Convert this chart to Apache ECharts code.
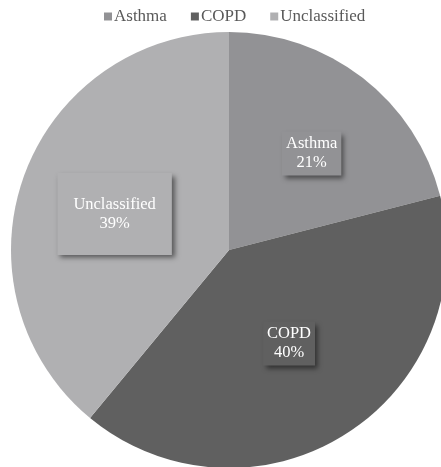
<!DOCTYPE html>
<html>
<head>
<meta charset="utf-8">
<script src="https://cdn.jsdelivr.net/npm/echarts@6/dist/echarts.min.js"></script>
<style>
  html, body { margin: 0; padding: 0; background: #ffffff; }
  #chart { width: 441px; height: 467px; }
</style>
</head>
<body>
<div id="chart"></div>
<script>
// Share of cases by diagnosis group
const categories = ['Asthma', 'COPD', 'Unclassified'];
const shares = [21, 40, 39];

// Slice colours and per-label presentation
const sliceColors = ['#929295', '#606060', '#b0b0b2'];
const labelOffsets = [[14, -8], [0, -1], [-9, 2]];
const labelPadding = [[3, 4], [3, 4], [22, 16]];

const FONT = '"Liberation Serif", "Times New Roman", serif';

const pieData = categories.map((name, i) => ({
  name: name,
  value: shares[i],
  itemStyle: { color: sliceColors[i] },
  label: {
    offset: labelOffsets[i],
    padding: labelPadding[i],
    backgroundColor: sliceColors[i]
  }
}));

const chart = echarts.init(document.getElementById('chart'), null, { renderer: 'canvas' });
chart.setOption({
  animation: false,
  backgroundColor: '#ffffff',
  legend: {
    data: categories,
    top: 8,
    left: 104,
    padding: 0,
    icon: 'rect',
    itemWidth: 8,
    itemHeight: 8,
    itemGap: 24,
    textStyle: { fontFamily: FONT, fontSize: 17, color: '#595959', padding: [0, 0, 0, -3] }
  },
  series: [{
    type: 'pie',
    center: [229, 250],
    radius: 218,
    startAngle: 90,
    clockwise: true,
    avoidLabelOverlap: false,
    data: pieData,
    label: {
      show: true,
      position: 'inside',
      formatter: '{b}\n{d}%',
      color: '#ffffff',
      fontFamily: FONT,
      fontSize: 16.5,
      lineHeight: 19,
      align: 'center',
      shadowColor: 'rgba(0,0,0,0.5)',
      shadowBlur: 5,
      shadowOffsetX: 3,
      shadowOffsetY: 3,
      textShadowColor: 'transparent'
    },
    labelLine: { show: false },
    emphasis: { disabled: true }
  }]
});
</script>
</body>
</html>
